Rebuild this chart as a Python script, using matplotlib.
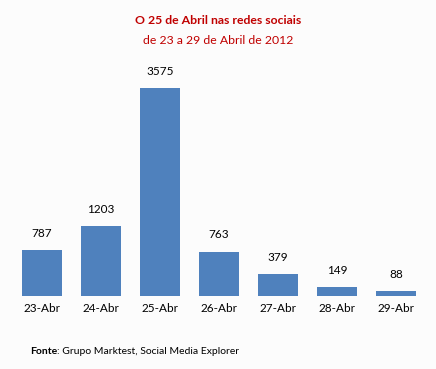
import matplotlib
matplotlib.use("Agg")
import matplotlib.pyplot as plt

dias = ["23-Abr", "24-Abr", "25-Abr", "26-Abr", "27-Abr", "28-Abr", "29-Abr"]
valores = [787, 1203, 3575, 763, 379, 149, 88]

plt.rcParams['font.family'] = ['Lato', 'DejaVu Sans']

W, H = 436, 369
fig = plt.figure(figsize=(W / 100, H / 100), dpi=100, facecolor="#fcfcfc")

# eixo em pixeis: base das barras em y=296, topo 4000 em ~63
x0, x1 = 12.5, 425.5
y_base, y_top = 296, 296 - 208 * 4000 / 3575
ax = fig.add_axes([x0 / W, (H - y_base) / H, (x1 - x0) / W, (y_base - y_top) / H])
ax.set_facecolor("#fcfcfc")

pos = range(len(dias))
ax.bar(pos, valores, width=0.68, color="#4f81bd")
for p, v in zip(pos, valores):
    ax.annotate(str(v), (p, v), xytext=(0, 8), textcoords="offset points",
                ha="center", va="bottom", fontsize=8.5, color="#000000")

ax.set_xlim(-0.5, 6.5)
ax.set_ylim(0, 4000)
ax.set_xticks(list(pos))
ax.set_xticklabels(dias, fontsize=8.5)
ax.tick_params(axis="x", length=0, pad=5)
ax.set_yticks([])
for s in ax.spines.values():
    s.set_visible(False)

fig.text(218 / W, 1 - 20 / H, "O 25 de Abril nas redes sociais", ha="center", va="center",
         fontsize=8.8, fontweight="bold", color="#c00000")
fig.text(218 / W, 1 - 40 / H, "de 23 a 29 de Abril de 2012", ha="center", va="center",
         fontsize=8.8, color="#c00000")

t = fig.text(30 / W, 1 - 352 / H, "Fonte", ha="left", va="center",
             fontsize=7.5, fontweight="bold")
fig.canvas.draw()
bb = t.get_window_extent()
fig.text(bb.x1 / W, 1 - 352 / H, ": Grupo Marktest, Social Media Explorer",
         ha="left", va="center", fontsize=7.5)

fig.savefig("out.png", dpi=100, facecolor=fig.get_facecolor())
